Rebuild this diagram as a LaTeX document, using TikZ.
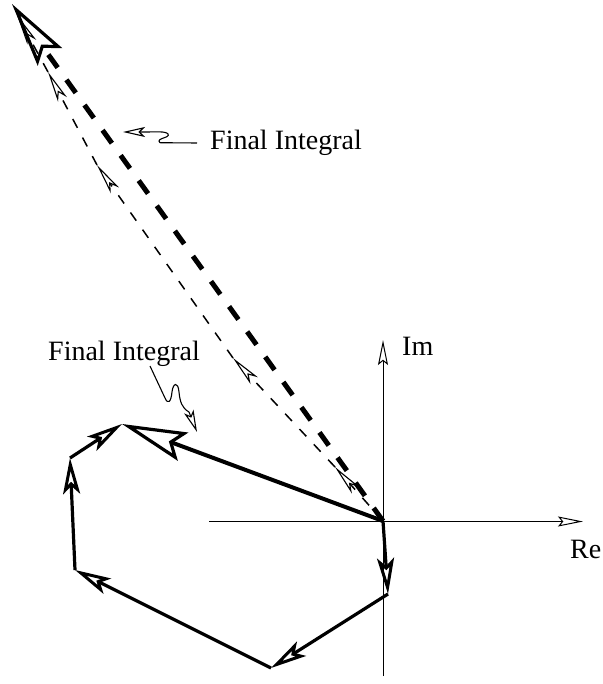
\documentclass[tikz,border=0pt]{standalone}
\usepackage{fontspec}
\setmainfont{Liberation Serif}
\usetikzlibrary{arrows.meta}
\begin{document}
\begin{tikzpicture}[x=1pt,y=-1pt,
  lbl/.style={font=\fontsize{28}{32}\selectfont, inner sep=0pt, anchor=base west},
  axis/.style={line width=1pt, -{Stealth[open, length=25pt, width=10pt, inset=4pt]}},
  poly/.style={line width=3.2pt, line join=round, -{Stealth[open, length=36pt, width=17pt, inset=8pt, line width=3pt]}},
  bigtip/.style={-{Stealth[open, length=65pt, width=30pt, inset=11pt, line width=3.2pt]}},
  finalline/.style={line width=4pt, bigtip},
  thickdash/.style={line width=5pt, dash pattern=on 16pt off 15pt, bigtip},
  thindash/.style={line width=1.5pt, dash pattern=on 10pt off 11pt, -{Stealth[open, length=31pt, width=10pt, inset=8pt, line width=1.1pt]}},
  squig/.style={line width=1.1pt, -{Stealth[open, length=22pt, width=10pt, inset=5pt]}}
]
\useasboundingbox (0,0) rectangle (602,684);

% points
\coordinate (O) at (383,521);
\coordinate (P1) at (388,594);
\coordinate (P2) at (271,668);
\coordinate (P3) at (75,570);
\coordinate (P4) at (70,458);
\coordinate (P5) at (122,424);
\coordinate (B) at (12,4);
\coordinate (T1) at (335,467);
\coordinate (T2) at (233,358);
\coordinate (T3) at (97,165);
\coordinate (T4) at (48,72);
\coordinate (T5) at (17,15);
\coordinate (ImB) at (383,676);
\coordinate (ImT) at (383,340);
\coordinate (ReL) at (209,521.5);
\coordinate (ReR) at (583,521.5);

% axes
\draw[axis] (ImB) -- (ImT);
\draw[axis] (ReL) -- (ReR);
\node[lbl] (im) at (402,355) {Im};
\node[lbl] (re) at (570,558) {Re};

% thin dashed partial sums
\draw[thindash] (O) -- (T1);
\draw[thindash] (T1) -- (T2);
\draw[thindash] (T2) -- (T3);
\draw[thindash] (T3) -- (T4);
\draw[thindash] (T4) -- (T5);

% thick dashed final integral
\draw[thickdash] (O) -- (B);

% polygon
\draw[poly] (O) -- (P1);
\draw[poly] (P1) -- (P2);
\draw[poly] (P2) -- (P3);
\draw[poly] (P3) -- (P4);
\draw[poly] (P4) -- (P5);
\draw[finalline] (O) -- (P5);

% labels
\node[lbl] (lab1) at (210,150) {Final Integral};
\node[lbl] (lab2) at (48,360) {Final Integral};

\coordinate (s1a) at (197,143);
\coordinate (s1b) at (123,132);
\draw[squig] (s1a) -- (160,142.7) .. controls (155,138) and (171,138) .. (168,134)
  .. controls (166,131) and (155,132) .. (146,132) -- (s1b);

\coordinate (s2a) at (150,366);
\coordinate (s2b) at (197,432);
\draw[squig] (s2a) -- (165,398) .. controls (168,405) and (171,402) .. (172,392)
  .. controls (173,383) and (178,381) .. (179,392) .. controls (180,402) and (182,408) .. (189,412) -- (s2b);
\end{tikzpicture}
\end{document}
